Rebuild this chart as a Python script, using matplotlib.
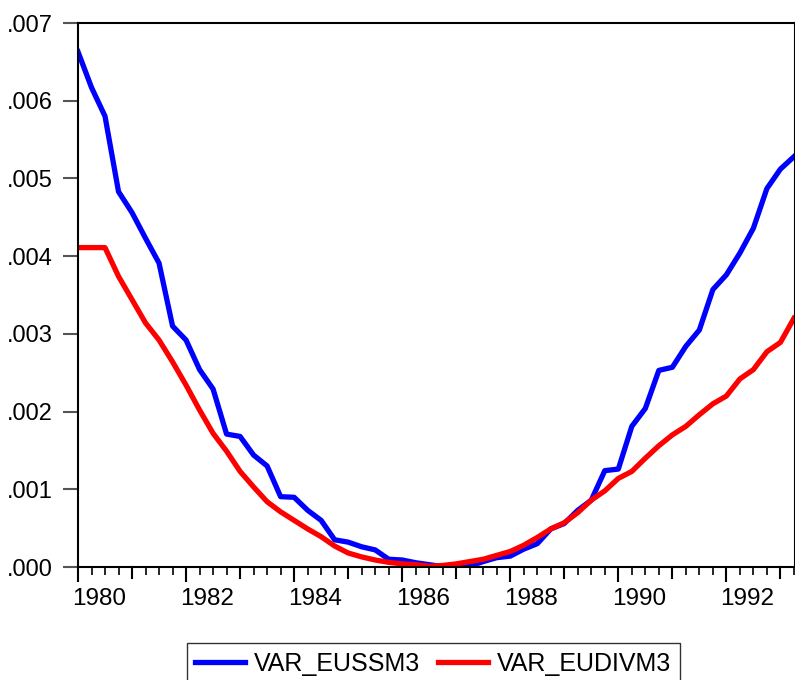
import matplotlib.pyplot as plt
import matplotlib.transforms as mtransforms
from matplotlib.ticker import MultipleLocator, FuncFormatter

plt.rcParams['font.family'] = ['Liberation Sans', 'DejaVu Sans']

# quarterly observations 1980Q1 .. 1993Q2
start_year = 1980
n_obs = 54
quarters = [start_year + k / 4 for k in range(n_obs)]

var_eussm3 = [0.00663, 0.00617, 0.00580, 0.00483, 0.00456, 0.00423, 0.00391, 0.00310,
              0.00292, 0.00254, 0.00229, 0.00171, 0.00168, 0.00144, 0.00130, 0.000905,
              0.000897, 0.00073, 0.00060, 0.00035, 0.00032, 0.00026, 0.00022, 0.00010,
              0.00009, 0.000055, 0.00003, 0.000005, 0.0, 0.00001, 0.00007, 0.00012,
              0.00014, 0.00023, 0.00030, 0.00049, 0.00056, 0.00073, 0.00086, 0.00124,
              0.00126, 0.00181, 0.00204, 0.00253, 0.00257, 0.00284, 0.00305, 0.00357,
              0.00376, 0.00404, 0.00436, 0.00487, 0.00512, 0.00528]

var_eudivm3 = [0.00411, 0.00411, 0.00411, 0.00374, 0.00344, 0.00314, 0.00292, 0.00264,
               0.00234, 0.00202, 0.00172, 0.00149, 0.00123, 0.00103, 0.00084, 0.00071,
               0.00060, 0.00049, 0.00039, 0.00027, 0.00018, 0.00013, 0.00009, 0.00006,
               0.00004, 0.00003, 0.00001, 0.00002, 0.00004, 0.00007, 0.00010, 0.00015,
               0.00020, 0.00028, 0.00038, 0.00049, 0.00057, 0.00070, 0.00086, 0.00098,
               0.00114, 0.00123, 0.00140, 0.00156, 0.00170, 0.00181, 0.00196, 0.00210,
               0.00220, 0.00242, 0.00254, 0.00277, 0.00289, 0.00320]

year_labels = list(range(1980, 1994, 2))

fig = plt.figure(figsize=(7.95, 6.8), dpi=100)
ax = fig.add_axes([78 / 795, 1 - 567 / 680, 1 - 78 / 795, (567 - 23) / 680])

ax.plot(quarters, var_eussm3, color='#0000ff', lw=3.8, label='VAR_EUSSM3')
ax.plot(quarters, var_eudivm3, color='#ff0000', lw=3.8, label='VAR_EUDIVM3')

ax.set_xlim(1980, 1993.27)
ax.set_ylim(0, 0.007)

ax.yaxis.set_major_locator(MultipleLocator(0.001))
ax.yaxis.set_major_formatter(FuncFormatter(lambda v, p: f"{v:.3f}".lstrip('0')))
ax.set_xticks(year_labels)
ax.set_xticklabels([str(y) for y in year_labels])
ax.xaxis.set_minor_locator(MultipleLocator(0.25))

ax.tick_params(axis='y', direction='out', length=11, width=1.5, color='#555555',
               labelsize=17, pad=7)
ax.tick_params(axis='x', which='major', direction='out', length=11, width=1.5,
               labelsize=17.5, pad=4)
ax.tick_params(axis='x', which='minor', direction='out', length=6, width=1.2)

# year labels sit a bit right of their tick, like eviews
shift = mtransforms.ScaledTranslation(21 / 100, 0, fig.dpi_scale_trans)
for lab in ax.get_xticklabels():
    lab.set_transform(lab.get_transform() + shift)

# unlabelled major ticks on odd years
for y in range(1981, 1994, 2):
    ax.plot([y, y], [0, -0.00014], color='black', lw=1.5, clip_on=False)

for side in ['left', 'bottom', 'top', 'right']:
    ax.spines[side].set_linewidth(1.5)
    ax.spines[side].set_color('black')

leg = fig.legend(loc='center', bbox_to_anchor=(433 / 795, 1 - 664 / 680),
                 ncol=2, fontsize=18, frameon=True, fancybox=False,
                 handlelength=2.0, handletextpad=0.35, columnspacing=0.7,
                 borderpad=0.35)
leg.get_frame().set_edgecolor('black')
leg.get_frame().set_linewidth(1.0)

fig.savefig('out.png', dpi=100)
